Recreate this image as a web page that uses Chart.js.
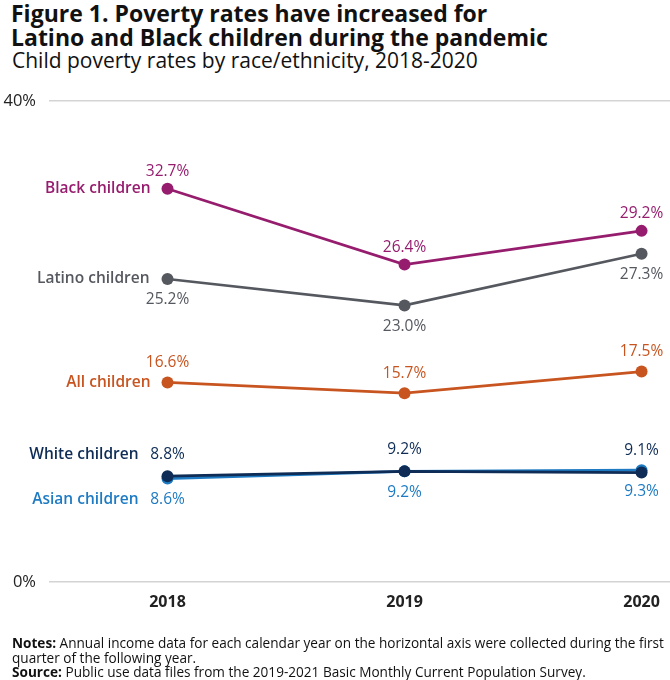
<!DOCTYPE html>
<html>
<head>
<meta charset="utf-8">
<script src="https://cdn.jsdelivr.net/npm/chart.js@4.4.0/dist/chart.umd.min.js"></script>
<style>
  html, body { margin: 0; padding: 0; background: #fff; }
  #wrap { position: relative; width: 670px; height: 680px; overflow: hidden; font-family: 'Open Sans', sans-serif; color: #111; }
  #chart { position: absolute; left: 0; top: 0; }
  .title { position: absolute; left: 11px; top: 1px; font-weight: 700; font-size: 23px; line-height: 24px; }
  .sub { position: absolute; left: 12px; top: 47px; font-size: 21px; line-height: 26px; }
  .notes { position: absolute; left: 12px; top: 636px; font-size: 13.6px; line-height: 14.5px; white-space: nowrap; }
</style>
</head>
<body>
<div id="wrap">
  <div class="title">Figure 1. Poverty rates have increased for<br>Latino and Black children during the pandemic</div>
  <div class="sub">Child poverty rates by race/ethnicity, 2018-2020</div>
  <canvas id="chart" width="670" height="680"></canvas>
  <div class="notes"><b>Notes:</b> Annual income data for each calendar year on the horizontal axis were collected during the first<br>quarter of the following year.<br><b>Source:</b> Public use data files from the 2019-2021 Basic Monthly Current Population Survey.</div>
</div>
<script>
// ------------- Dados -------------
const years  = [2018, 2019, 2020];
const yTicks = [0, 40];

const black  = [32.7, 26.4, 29.2];
const latino = [25.2, 23.0, 27.3];
const all    = [16.6, 15.7, 17.5];
const white  = [8.8, 9.2, 9.1];
const asian  = [8.6, 9.2, 9.3];

// ------------- Séries (estilo + posição dos rótulos) -------------
// Chart.js desenha o dataset 0 por cima, então White vem antes de Asian
const series = [
  { name: 'Black children',  values: black,  color: '#961c6e', valDy: -17, nameDx: -17, nameDy: 0 },
  { name: 'Latino children', values: latino, color: '#55585f', valDy: 21,  nameDx: -18, nameDy: 0 },
  { name: 'All children',    values: all,    color: '#c8541f', valDy: -20, nameDx: -17, nameDy: 0 },
  { name: 'White children',  values: white,  color: '#0e2c55', valDy: -22, nameDx: -29, nameDy: -22 },
  { name: 'Asian children',  values: asian,  color: '#1e7bc3', valDy: 21,  nameDx: -29, nameDy: 21 }
];

const FONT = "'Open Sans', sans-serif";

const labelsPlugin = {
  id: 'labels',
  afterDatasetsDraw(chart) {
    const ctx = chart.ctx;
    ctx.save();
    ctx.textBaseline = 'middle';
    chart.data.datasets.forEach((ds, i) => {
      const s = series[i];
      const pts = chart.getDatasetMeta(i).data;
      ctx.fillStyle = s.color;
      ctx.font = `400 15.5px ${FONT}`;
      ctx.textAlign = 'center';
      pts.forEach((p, j) => {
        ctx.fillText(s.values[j].toFixed(1) + '%', p.x, p.y + s.valDy);
      });
      ctx.font = `600 15.5px ${FONT}`;
      ctx.textAlign = 'right';
      ctx.fillText(s.name, pts[0].x + s.nameDx, pts[0].y + s.nameDy);
    });
    ctx.restore();
  }
};

new Chart(document.getElementById('chart'), {
  type: 'line',
  data: {
    datasets: series.map(s => ({
      label: s.name,
      data: years.map((y, j) => ({ x: y, y: s.values[j] })),
      borderColor: s.color,
      backgroundColor: s.color,
      borderWidth: 2.7,
      pointRadius: 6,
      pointBorderWidth: 0,
      tension: 0,
      clip: false
    }))
  },
  options: {
    responsive: false,
    animation: false,
    layout: { autoPadding: false, padding: { top: 101, bottom: 68, left: 0, right: 0 } },
    plugins: { legend: { display: false }, tooltip: { enabled: false } },
    scales: {
      x: {
        type: 'linear',
        min: 2017.5,
        max: 2020.12,
        afterBuildTicks: sc => { sc.ticks = years.map(v => ({ value: v })); },
        afterFit: sc => { sc.height = 30; sc.paddingLeft = 0; sc.paddingRight = 0; },
        grid: { display: false, drawTicks: false },
        border: { display: false },
        ticks: { callback: v => String(v), font: { family: FONT, size: 16, weight: '700' }, color: '#222', padding: 11, maxRotation: 0 }
      },
      y: {
        min: 0,
        max: 40,
        afterBuildTicks: sc => { sc.ticks = yTicks.map(v => ({ value: v })); },
        afterFit: sc => { sc.width = 49; sc.paddingTop = 0; sc.paddingBottom = 0; },
        grid: { color: '#d4d4d4', lineWidth: 1.5, drawTicks: false },
        border: { display: false },
        ticks: { callback: v => v + '%', font: { family: FONT, size: 16.5 }, color: '#222', padding: 13 }
      }
    }
  },
  plugins: [labelsPlugin]
});
</script>
</body>
</html>
